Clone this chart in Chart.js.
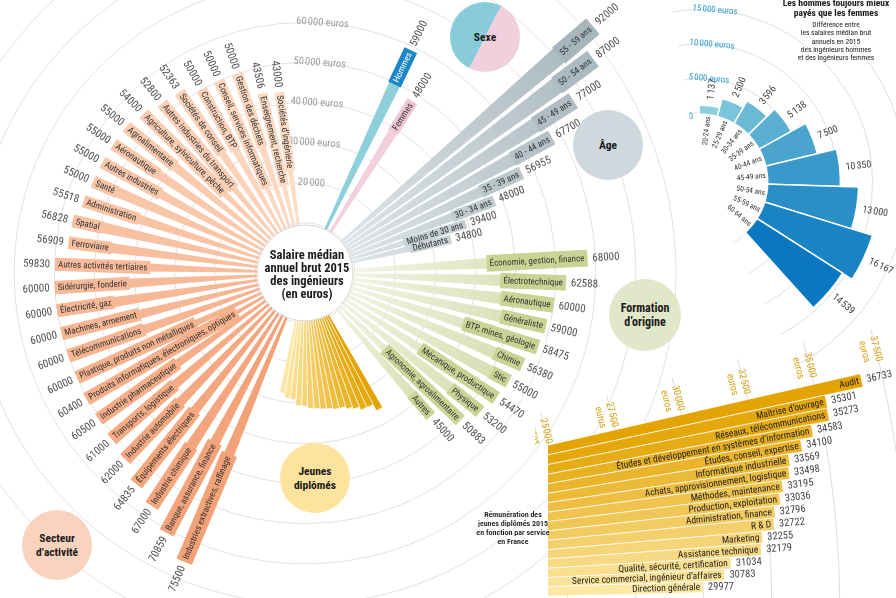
<!DOCTYPE html>
<html lang="fr">
<head>
<meta charset="utf-8">
<title>Salaire médian annuel brut 2015 des ingénieurs</title>
<script src="https://cdn.jsdelivr.net/npm/chart.js@4.4.1/dist/chart.umd.min.js"></script>
<style>
  html, body { margin: 0; padding: 0; background: #fff; }
  body { position: relative; width: 896px; height: 598px; overflow: hidden;
         font-family: 'Roboto Condensed', 'Liberation Sans Narrow', 'Open Sans', sans-serif; color: #1a1a1a; }
  canvas { position: absolute; }
  #mainChart { z-index: 1; }
  #ecartChart { z-index: 2; }
  #svcBox { position: absolute; left: 535px; top: 330px; width: 361px; height: 268px; overflow: hidden; z-index: 3; }
  #youngChart { z-index: 4; }
  .bubble { position: absolute; z-index: 5; border-radius: 50%; display: flex; align-items: center;
            justify-content: center; text-align: center; font-weight: 700; font-size: 11.5px; line-height: 14px; }
  #centre { position: absolute; z-index: 6; left: 257px; top: 248px; width: 100px; text-align: center;
            font-weight: 700; font-size: 12.5px; line-height: 13px; }
  #ecartTitle { position: absolute; z-index: 6; left: 771px; top: -2px; width: 130px; text-align: center;
                font-weight: 700; font-size: 9.5px; line-height: 9.5px; }
  #ecartSub { position: absolute; z-index: 6; left: 776px; top: 21px; width: 120px; text-align: center;
              font-size: 7.5px; line-height: 8.3px; }
  #svcNote { position: absolute; z-index: 6; left: 463px; top: 510px; width: 100px; text-align: center;
             font-weight: 600; font-size: 8px; line-height: 9px; }
</style>
</head>
<body>
<canvas id="mainChart"></canvas>
<canvas id="ecartChart"></canvas>
<div id="svcBox"><canvas id="svcChart"></canvas></div>
<canvas id="youngChart"></canvas>

<div class="bubble" style="left:450px;top:2px;width:70px;height:70px;background:linear-gradient(117deg,#87ccd8 50%,#f2cfdc 50%);">Sexe</div>
<div class="bubble" style="left:573px;top:110px;width:70px;height:70px;background:#cfd8dc;">Âge</div>
<div class="bubble" style="left:609px;top:279px;width:72px;height:72px;background:#e1e7c9;font-size:12px;">Formation<br>d’origine</div>
<div class="bubble" style="left:280px;top:443px;width:70px;height:70px;background:#fde39b;">Jeunes<br>diplômés</div>
<div class="bubble" style="left:22px;top:510px;width:70px;height:70px;background:#f9d3bd;">Secteur<br>d’activité</div>

<div id="centre">Salaire médian<br>annuel brut 2015<br>des ingénieurs<br>(en euros)</div>
<div id="ecartTitle">Les hommes toujours mieux<br>payés que les femmes</div>
<div id="ecartSub">Différence entre<br>les salaires médian brut<br>annuels en 2015<br>des ingénieurs hommes<br>et des ingénieurs femmes</div>
<div id="svcNote">Rémunération des<br>jeunes diplômés 2015<br>en fonction par service<br>en France</div>

<script>
// ---------- Data ----------
const sexeLabels = ['Hommes', 'Femmes'];
const sexeValues = [59000, 48000];

const ageLabels = ['55 - 59 ans', '50 - 54 ans', '45 - 49 ans', '40 - 44 ans', '35 - 39 ans',
  '30 - 34 ans', 'Moins de 30 ans', 'Débutants'];
const ageValues = [92000, 87000, 77000, 67700, 56955, 48000, 39400, 34800];

const formationLabels = ['Économie, gestion, finance', 'Électrotechnique', 'Aéronautique', 'Généraliste',
  'BTP, mines, géologie', 'Chimie', 'Stic', 'Mécanique, productique', 'Physique',
  'Agronomie, agroalimentaire', 'Autres'];
const formationValues = [68000, 62588, 60000, 59000, 58475, 56380, 55000, 54470, 53200, 50883, 45000];

const secteurLabels = ['Industries extractives, raffinage', 'Banque, assurance, finance', 'Industrie chimique',
  'Équipements électriques', 'Industrie automobile', 'Transports, logistique', 'Industrie pharmaceutique',
  'Produits informatiques, électroniques, optiques', 'Plastique, produits non métalliques',
  'Télécommunications', 'Machines, armement', 'Électricité, gaz', 'Sidérurgie, fonderie',
  'Autres activités tertiaires', 'Ferroviaire', 'Spatial', 'Administration', 'Santé', 'Autres industries',
  'Aéronautique', 'Agroalimentaire', 'Agriculture, sylviculture, pêche', 'Autres industries du transport',
  'Sociétés de conseil', 'Construction, BTP', 'Conseil, services informatiques', 'Gestion des déchets',
  'Enseignement, recherche', 'Sociétés d’ingénierie'];
const secteurValues = [75500, 70859, 67000, 64835, 62000, 61000, 60500, 60400, 60000, 60000, 60000, 60000,
  60000, 59830, 56909, 56828, 55518, 55000, 55000, 55000, 55000, 54000, 52800, 52363, 50000, 50000, 50000,
  43506, 43000];

const serviceLabels = ['Audit', 'Maîtrise d’ouvrage', 'Réseaux, télécommunications',
  'Études et développement en systèmes d’information', 'Études, conseil, expertise',
  'Informatique industrielle', 'Achats, approvisionnement, logistique', 'Méthodes, maintenance',
  'Production, exploitation', 'Administration, finance', 'R & D', 'Marketing', 'Assistance technique',
  'Qualité, sécurité, certification', 'Service commercial, ingénieur d’affaires', 'Direction générale'];
const serviceValues = [36733, 35301, 35273, 34583, 34100, 33569, 33498, 33195, 33036, 32796, 32722, 32255,
  32179, 31034, 30783, 29977];

const ecartLabels = ['20-24 ans', '25-29 ans', '30-34 ans', '35-39 ans', '40-44 ans', '45-49 ans',
  '50-54 ans', '55-59 ans', '60-64 ans'];
const ecartValues = [1137, 2500, 3596, 5138, 7500, 10350, 13000, 16167, 14539];

const mainTicks = [20000, 30000, 40000, 50000, 60000];
const ecartTicks = [5000, 10000, 15000];
const serviceTicks = [25000, 27500, 30000, 32500, 35000, 37500];

// ---------- Layout ----------
const FONT = "'Roboto Condensed', 'Liberation Sans Narrow', 'Open Sans', sans-serif";
const MAIN = { cx: 305, cy: 273, min: -2500, max: 90000, radius: 371, start: 4 };
const ECART = { cx: 700, cy: 182, min: -10000, max: 20000, radius: 207, start: 5 };
const SVC = { cx: -180, cy: 612, min: -2500, max: 37500, radius: 1088, start: 76, cut: 548 };
const YOUNG = { min: 5000, max: 40000, radius: 171 };

const fmt = v => String(v).replace(/\B(?=(\d{3})+(?!\d))/g, '\u202f');

function hexToRgb(h) {
  const n = parseInt(h.slice(1), 16);
  return [n >> 16, (n >> 8) & 255, n & 255];
}
function mix(a, b, t) {
  const A = hexToRgb(a), B = hexToRgb(b);
  return 'rgb(' + A.map((v, i) => Math.round(v + (B[i] - v) * t)).join(',') + ')';
}

// builds the arc list (bars + invisible spacers) walking clockwise from `start`
function buildArcs(groups, start) {
  const arcs = [];
  let cursor = start;
  for (const g of groups) {
    g.labels.forEach((label, i) => {
      const a0 = g.first + i * g.step - g.width / 2;
      let gap = a0 - cursor;
      while (gap < 0) gap += 360;
      if (gap > 0.01) arcs.push({ gap: true, angle: gap });
      arcs.push({ label, value: g.values[i], angle: g.width, style: g.style(i, g.labels.length) });
      cursor = a0 + g.width;
    });
  }
  return arcs;
}

function drawBarText(ctx, cx, cy, mid, r, o) {
  const right = Math.cos(mid) >= -0.01;
  const s = right ? 1 : -1;
  const end = s * r;
  ctx.save();
  ctx.translate(cx, cy);
  ctx.rotate(right ? mid : mid + Math.PI);
  ctx.textBaseline = 'middle';
  if (o.text) {
    ctx.font = o.font;
    const w = ctx.measureText(o.text).width;
    if (o.box) {
      const x0 = end - s * (w + 2 * o.pad);
      ctx.fillStyle = o.box;
      ctx.fillRect(Math.min(x0, end), -o.boxH / 2, Math.abs(end - x0), o.boxH);
    }
    ctx.fillStyle = o.color;
    ctx.textAlign = right ? 'right' : 'left';
    ctx.fillText(o.text, end - s * o.pad, 0.5);
  }
  if (o.num) {
    ctx.font = o.numFont;
    ctx.fillStyle = o.numColor;
    ctx.textAlign = right ? 'left' : 'right';
    ctx.fillText(o.num, end + s * o.gap, 0.5);
  }
  ctx.restore();
}

function arcGeom(arc) {
  const p = arc.getProps(['x', 'y', 'startAngle', 'endAngle', 'outerRadius']);
  p.mid = (p.startAngle + p.endAngle) / 2;
  p.width = 2 * p.outerRadius * Math.sin((p.endAngle - p.startAngle) / 2);
  return p;
}

function prepCanvas(id, size) {
  const c = document.getElementById(id);
  c.width = size; c.height = size;
  c.style.width = size + 'px'; c.style.height = size + 'px';
  return c;
}

function pin(chart, cx, cy, offX, offY) {
  const s = chart.scales.r;
  chart.canvas.style.left = (cx - s.xCenter - (offX || 0)) + 'px';
  chart.canvas.style.top = (cy - s.yCenter - (offY || 0)) + 'px';
}

function wedgeClip(chart, fromDeg, toDeg, len) {
  const s = chart.scales.r;
  const pts = [`${s.xCenter}px ${s.yCenter}px`];
  for (let a = fromDeg; a <= toDeg + 0.001; a += (toDeg - fromDeg) / 6) {
    const t = a * Math.PI / 180;
    pts.push(`${(s.xCenter + len * Math.sin(t)).toFixed(1)}px ${(s.yCenter - len * Math.cos(t)).toFixed(1)}px`);
  }
  chart.canvas.style.clipPath = `polygon(${pts.join(',')})`;
}

const baseOptions = (r) => ({
  responsive: false,
  animation: false,
  devicePixelRatio: 1,
  events: [],
  layout: { padding: 0 },
  plugins: { legend: { display: false }, tooltip: { enabled: false } },
  scales: { r }
});

const hidden = 'rgba(0,0,0,0)';

// ---------- Main radial chart ----------
const mainArcs = buildArcs([
  { labels: sexeLabels, values: sexeValues, first: 25.4, step: 6.6, width: 3.2,
    style: i => i === 0
      ? { color: '#8dd0da', box: '#1b87c8', text: '#ffffff' }
      : { color: '#f3d0dd', box: '#efc6d6', text: '#333333' } },
  { labels: ageLabels, values: ageValues, first: 49.4, step: 3.94, width: 3.1,
    style: (i, n) => { const c = mix('#a6b6bc', '#c9d3d7', i / (n - 1)); return { color: c, fade: '#dfe5e8', box: c, text: '#333333' }; } },
  { labels: formationLabels, values: formationValues, first: 87, step: 5.17, width: 3.4,
    style: () => ({ color: '#d4ddad', fade: '#f1f4e4', box: '#c8d494', text: '#333333' }) },
  { labels: secteurLabels, values: secteurValues, first: 202.7, step: 5.33, width: 3.0,
    style: (i, n) => { const c = mix('#f3a177', '#fddcc6', i / (n - 1)); return { color: c, box: c, text: '#333333' }; } }
], MAIN.start);

const mainLabels = {
  id: 'mainLabels',
  afterDatasetsDraw(chart) {
    const ctx = chart.ctx;
    chart.getDatasetMeta(0).data.forEach((arc, i) => {
      const e = mainArcs[i];
      if (e.gap) return;
      const p = arcGeom(arc);
      drawBarText(ctx, p.x, p.y, p.mid, p.outerRadius, {
        text: e.label, font: '9px ' + FONT, color: e.style.text, pad: 3,
        box: e.style.box, boxH: Math.max(9, p.width),
        num: String(e.value), numFont: '11px ' + FONT, numColor: '#505050', gap: 5
      });
    });
  }
};

const mainChart = new Chart(prepCanvas('mainChart', 753), {
  type: 'polarArea',
  data: {
    datasets: [{
      data: mainArcs.map(e => e.gap ? MAIN.min : e.value),
      angle: c => mainArcs[c.dataIndex].angle,
      borderWidth: 0,
      clip: false,
      backgroundColor: c => {
        const e = mainArcs[c.dataIndex];
        if (!e || e.gap) return hidden;
        const s = c.chart.scales.r;
        if (!e.style.fade || !s || !isFinite(s.xCenter)) return e.style.color;
        const rr = s.getDistanceFromCenterForValue(e.value);
        const g = c.chart.ctx.createRadialGradient(s.xCenter, s.yCenter, 45, s.xCenter, s.yCenter, rr);
        g.addColorStop(0, e.style.fade);
        g.addColorStop(1, e.style.color);
        return g;
      }
    }]
  },
  options: baseOptions({
    min: MAIN.min, max: MAIN.max, startAngle: MAIN.start,
    angleLines: { display: false },
    pointLabels: { display: false },
    grid: { circular: true, lineWidth: 1,
      color: c => (c.tick && c.tick.value >= 10000 && c.tick.value % 10000 === 0) ? '#e2e2e2' : hidden },
    ticks: { stepSize: 2500, maxTicksLimit: 200, showLabelBackdrop: false, backdropPadding: 0,
      color: '#9c9c9c', font: { family: FONT, size: 10.5 },
      callback: v => mainTicks.includes(v) ? (v === 20000 ? fmt(v) : fmt(v) + ' euros') : '' }
  }),
  plugins: [mainLabels]
});
pin(mainChart, MAIN.cx, MAIN.cy);

// ---------- Jeunes diplômés fan (same centre) ----------
const youngArcs = buildArcs([
  { labels: serviceLabels, values: serviceValues, first: 151.3, step: 2.625, width: 2.625,
    style: (i, n) => ({ color: mix('#e3a300', '#fce7a4', i / (n - 1)) }) }
], 0);

const youngCentre = {
  id: 'youngCentre',
  afterDatasetsDraw(chart) {
    const s = chart.scales.r, ctx = chart.ctx;
    ctx.save();
    ctx.beginPath();
    ctx.arc(s.xCenter, s.yCenter, 48, 0, Math.PI * 2);
    ctx.fillStyle = '#ffffff';
    ctx.fill();
    ctx.lineWidth = 1;
    ctx.strokeStyle = '#d6d6d6';
    ctx.stroke();
    ctx.restore();
  }
};

const youngChart = new Chart(prepCanvas('youngChart', 2 * YOUNG.radius), {
  type: 'polarArea',
  data: {
    datasets: [{
      data: youngArcs.map(e => e.gap ? YOUNG.min : e.value),
      angle: c => youngArcs[c.dataIndex].angle,
      backgroundColor: youngArcs.map(e => e.gap ? hidden : e.style.color),
      borderColor: '#ffffff',
      borderWidth: youngArcs.map(e => e.gap ? 0 : 0.6),
      clip: false
    }]
  },
  options: baseOptions({
    min: YOUNG.min, max: YOUNG.max, startAngle: 0,
    angleLines: { display: false }, pointLabels: { display: false },
    grid: { display: false }, ticks: { display: false }
  }),
  plugins: [youngCentre]
});
pin(youngChart, MAIN.cx, MAIN.cy);

// ---------- Écart hommes / femmes ----------
const ecartArcs = buildArcs([
  { labels: ecartLabels, values: ecartValues, first: 7.1, step: 15.4, width: 15.4,
    style: (i, n) => ({ color: mix('#8ad0dc', '#0a78c0', i / (n - 1)) }) }
], ECART.start);

const ecartText = {
  id: 'ecartText',
  afterDatasetsDraw(chart) {
    const ctx = chart.ctx, s = chart.scales.r;
    const r0 = s.getDistanceFromCenterForValue(0);
    ctx.save();
    ctx.beginPath();
    ctx.arc(s.xCenter, s.yCenter, r0 - 0.5, 0, Math.PI * 2);
    ctx.fillStyle = '#ffffff';
    ctx.fill();
    ctx.restore();
    chart.getDatasetMeta(0).data.forEach((arc, i) => {
      const e = ecartArcs[i];
      if (e.gap) return;
      const p = arcGeom(arc);
      drawBarText(ctx, p.x, p.y, p.mid, p.outerRadius,
        { num: fmt(e.value), numFont: '10px ' + FONT, numColor: '#444444', gap: 6 });
      drawBarText(ctx, p.x, p.y, p.mid, r0,
        { text: e.label, font: '7.5px ' + FONT, color: '#333333', pad: 3 });
    });
    // value 0 of the scale, just left of the first bar
    ctx.save();
    ctx.translate(s.xCenter, s.yCenter);
    ctx.rotate(-5 * Math.PI / 180);
    ctx.font = '9px ' + FONT;
    ctx.fillStyle = '#2a9fd6';
    ctx.textAlign = 'right';
    ctx.textBaseline = 'middle';
    ctx.fillText('0', -1, -r0 + 3);
    ctx.restore();
  }
};

const ecartChart = new Chart(prepCanvas('ecartChart', 2 * ECART.radius + 9), {
  type: 'polarArea',
  data: {
    datasets: [{
      data: ecartArcs.map(e => e.gap ? ECART.min : e.value),
      angle: c => ecartArcs[c.dataIndex].angle,
      backgroundColor: ecartArcs.map(e => e.gap ? hidden : e.style.color),
      borderColor: '#ffffff',
      borderWidth: ecartArcs.map(e => e.gap ? 0 : 1.5),
      clip: false
    }]
  },
  options: baseOptions({
    min: ECART.min, max: ECART.max, startAngle: ECART.start,
    angleLines: { display: false }, pointLabels: { display: false },
    grid: { circular: true, color: c => (c.tick && c.tick.value >= 0 && c.tick.value % 5000 === 0) ? '#dedede' : hidden },
    ticks: { stepSize: 5000, maxTicksLimit: 100, showLabelBackdrop: false, backdropPadding: 0,
      color: '#2a9fd6', font: { family: FONT, size: 9 },
      callback: v => ecartTicks.includes(v) ? fmt(v) + ' euros' : '' }
  }),
  plugins: [ecartText]
});
pin(ecartChart, ECART.cx, ECART.cy);
wedgeClip(ecartChart, -9, 152, 260);

// ---------- Jeunes diplômés par service (zoomed sector) ----------
const svcArcs = buildArcs([
  { labels: serviceLabels, values: serviceValues, first: 77.46, step: 0.728, width: 0.728,
    style: (i, n) => ({ color: mix('#e3a300', '#fce7a4', i / (n - 1)) }) }
], SVC.start);

const svcText = {
  id: 'svcText',
  beforeDatasetsDraw(chart) {
    const s = chart.scales.r, ctx = chart.ctx;
    const cut = s.xCenter + (SVC.cut - SVC.cx);
    ctx.save();
    ctx.beginPath();
    ctx.rect(cut, 0, chart.width, chart.height);
    ctx.clip();
  },
  afterDatasetsDraw(chart) {
    const ctx = chart.ctx;
    ctx.restore();
    chart.getDatasetMeta(0).data.forEach((arc, i) => {
      const e = svcArcs[i];
      if (e.gap) return;
      const p = arcGeom(arc);
      drawBarText(ctx, p.x, p.y, p.mid, p.outerRadius, {
        text: e.label, font: '9.5px ' + FONT, color: '#222222', pad: 3,
        num: String(e.value), numFont: '10.5px ' + FONT, numColor: '#444444', gap: 5
      });
    });
  }
};

const svcChart = new Chart(prepCanvas('svcChart', 2 * SVC.radius + 10), {
  type: 'polarArea',
  data: {
    datasets: [{
      data: svcArcs.map(e => e.gap ? SVC.min : e.value),
      angle: c => svcArcs[c.dataIndex].angle,
      backgroundColor: svcArcs.map(e => e.gap ? hidden : e.style.color),
      borderColor: '#ffffff',
      borderWidth: svcArcs.map(e => e.gap ? 0 : 0.7),
      clip: false
    }]
  },
  options: baseOptions({
    min: SVC.min, max: SVC.max, startAngle: SVC.start,
    angleLines: { display: false }, pointLabels: { display: false },
    grid: { circular: true, color: c => (c.tick && serviceTicks.includes(c.tick.value)) ? '#dcdcdc' : hidden },
    ticks: { stepSize: 2500, maxTicksLimit: 100, showLabelBackdrop: false, backdropPadding: 0,
      color: '#d6a20f', font: { family: FONT, size: 10 },
      callback: v => serviceTicks.includes(v) ? [fmt(v), 'euros'] : '' }
  }),
  plugins: [svcText]
});
pin(svcChart, SVC.cx, SVC.cy, 535, 330);
wedgeClip(svcChart, 74.6, 100, 1300);
</script>
</body>
</html>
